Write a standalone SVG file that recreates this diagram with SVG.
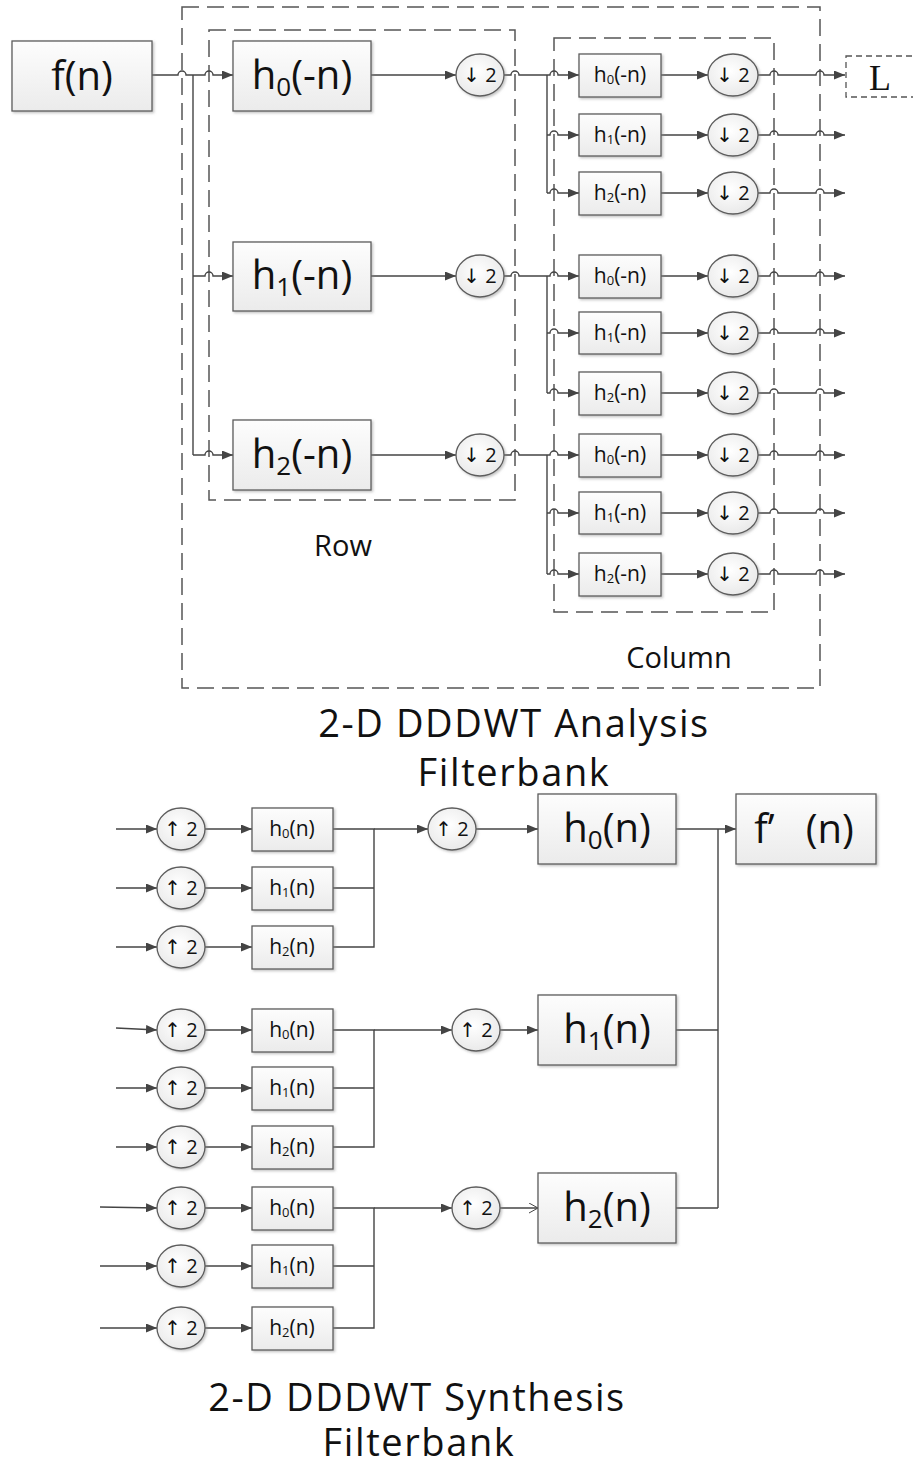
<svg xmlns="http://www.w3.org/2000/svg" width="913" height="1468" viewBox="0 0 913 1468">
<style>
.bx{fill:url(#gb);stroke:#5c5c5c;stroke-width:1.3;filter:url(#sh)}
.ci{fill:url(#gc);stroke:#5c5c5c;stroke-width:1.3;filter:url(#sh)}
.ln{fill:none;stroke:#444;stroke-width:1.4}
.ar{marker-end:url(#ah)}
.dsh{fill:none;stroke:#555;stroke-width:1.5;stroke-dasharray:17 8}
.t{font-family:"Open Sans","DejaVu Sans",sans-serif;fill:#111;text-anchor:middle}
.big{font-size:40px}
.sm{font-size:21px}
.cl{font-size:20px}
.lab{font-size:29px}
.ttl{font-size:38px;letter-spacing:1.6px}
</style>
<defs>
<linearGradient id="gb" x1="0" y1="0" x2="0" y2="1"><stop offset="0" stop-color="#fdfdfd"/><stop offset="1" stop-color="#ebebeb"/></linearGradient>
<radialGradient id="gc" cx="0.45" cy="0.4" r="0.7"><stop offset="0" stop-color="#ffffff"/><stop offset="1" stop-color="#e6e6e6"/></radialGradient>
<filter id="sh" x="-10%" y="-10%" width="130%" height="130%"><feDropShadow dx="1.5" dy="1.5" stdDeviation="0.8" flood-color="#888" flood-opacity="0.5"/></filter>
<marker id="ah" markerUnits="userSpaceOnUse" markerWidth="11" markerHeight="9" refX="11" refY="4.5" orient="auto"><path d="M0,0 L11,4.5 L0,9 Z" fill="#444"/></marker>
<marker id="ao" markerUnits="userSpaceOnUse" markerWidth="11" markerHeight="11" refX="10" refY="5.5" orient="auto"><path d="M1,0.5 L10,5.5 L1,10.5" fill="none" stroke="#444" stroke-width="1"/></marker>
</defs>

<g id="frames">
<rect class="dsh" x="182" y="7" width="638" height="681"/>
<rect class="dsh" x="209" y="30" width="306" height="470"/>
<rect class="dsh" x="554" y="38" width="220" height="574"/>
</g>

<g id="connectors">
<path class="ln ar" d="M152 75 H178 A4 4 0 0 1 186 75 H205 A4 4 0 0 1 213 75 H233"/>
<path class="ln" d="M193 75 V455"/>
<path class="ln ar" d="M193 276 H205 A4 4 0 0 1 213 276 H233"/>
<path class="ln ar" d="M193 455 H205 A4 4 0 0 1 213 455 H233"/>
<path class="ln ar" d="M371 75 H456"/>
<path class="ln ar" d="M371 276 H456"/>
<path class="ln ar" d="M371 455 H456"/>
<path class="ln" d="M504 75 H511 A4 4 0 0 1 519 75 H547"/>
<path class="ln" d="M504 276 H511 A4 4 0 0 1 519 276 H547"/>
<path class="ln" d="M504 455 H511 A4 4 0 0 1 519 455 H547"/>
<path class="ln" d="M547 75 V193"/>
<path class="ln" d="M547 276 V393"/>
<path class="ln" d="M547 455 V574"/>
<path class="ln ar" d="M547 75 H550 A4 4 0 0 1 558 75 H579"/>
<path class="ln ar" d="M547 135 H550 A4 4 0 0 1 558 135 H579"/>
<path class="ln ar" d="M547 193 H550 A4 4 0 0 1 558 193 H579"/>
<path class="ln ar" d="M547 276 H550 A4 4 0 0 1 558 276 H579"/>
<path class="ln ar" d="M547 333 H550 A4 4 0 0 1 558 333 H579"/>
<path class="ln ar" d="M547 393 H550 A4 4 0 0 1 558 393 H579"/>
<path class="ln ar" d="M547 455 H550 A4 4 0 0 1 558 455 H579"/>
<path class="ln ar" d="M547 513 H550 A4 4 0 0 1 558 513 H579"/>
<path class="ln ar" d="M547 574 H550 A4 4 0 0 1 558 574 H579"/>
<path class="ln ar" d="M661 75 H708"/>
<path class="ln ar" d="M661 135 H708"/>
<path class="ln ar" d="M661 193 H708"/>
<path class="ln ar" d="M661 276 H708"/>
<path class="ln ar" d="M661 333 H708"/>
<path class="ln ar" d="M661 393 H708"/>
<path class="ln ar" d="M661 455 H708"/>
<path class="ln ar" d="M661 513 H708"/>
<path class="ln ar" d="M661 574 H708"/>
<path class="ln ar" d="M758 75 H770 A4 4 0 0 1 778 75 H816 A4 4 0 0 1 824 75 H845"/>
<path class="ln ar" d="M758 135 H770 A4 4 0 0 1 778 135 H816 A4 4 0 0 1 824 135 H845"/>
<path class="ln ar" d="M758 193 H770 A4 4 0 0 1 778 193 H816 A4 4 0 0 1 824 193 H845"/>
<path class="ln ar" d="M758 276 H770 A4 4 0 0 1 778 276 H816 A4 4 0 0 1 824 276 H845"/>
<path class="ln ar" d="M758 333 H770 A4 4 0 0 1 778 333 H816 A4 4 0 0 1 824 333 H845"/>
<path class="ln ar" d="M758 393 H770 A4 4 0 0 1 778 393 H816 A4 4 0 0 1 824 393 H845"/>
<path class="ln ar" d="M758 455 H770 A4 4 0 0 1 778 455 H816 A4 4 0 0 1 824 455 H845"/>
<path class="ln ar" d="M758 513 H770 A4 4 0 0 1 778 513 H816 A4 4 0 0 1 824 513 H845"/>
<path class="ln ar" d="M758 574 H770 A4 4 0 0 1 778 574 H816 A4 4 0 0 1 824 574 H845"/>

<path class="ln ar" d="M116 829 H157"/>
<path class="ln ar" d="M116 888 H157"/>
<path class="ln ar" d="M116 947 H157"/>
<path class="ln ar" d="M116 1028 L157 1030"/>
<path class="ln ar" d="M116 1088 H157"/>
<path class="ln ar" d="M116 1147 H157"/>
<path class="ln ar" d="M100 1207 L157 1208"/>
<path class="ln ar" d="M100 1266 H157"/>
<path class="ln ar" d="M100 1328 H157"/>
<path class="ln ar" d="M205 829 H252"/>
<path class="ln ar" d="M205 888 H252"/>
<path class="ln ar" d="M205 947 H252"/>
<path class="ln ar" d="M205 1030 H252"/>
<path class="ln ar" d="M205 1088 H252"/>
<path class="ln ar" d="M205 1147 H252"/>
<path class="ln ar" d="M205 1208 H252"/>
<path class="ln ar" d="M205 1266 H252"/>
<path class="ln ar" d="M205 1328 H252"/>
<path class="ln" d="M333 829 H374 V947 H333 M333 888 H374"/>
<path class="ln" d="M333 1030 H374 V1147 H333 M333 1088 H374"/>
<path class="ln" d="M333 1208 H374 V1328 H333 M333 1266 H374"/>
<path class="ln ar" d="M374 829 H428"/>
<path class="ln ar" d="M374 1030 H452"/>
<path class="ln ar" d="M374 1208 H452"/>
<path class="ln ar" d="M476 829 H538"/>
<path class="ln ar" d="M500 1030 H538"/>
<path class="ln" style="marker-end:url(#ao)" d="M500 1208 H538"/>
<path class="ln ar" d="M676 829 H736"/>
<path class="ln" d="M676 1030 H718 M676 1208 H718 M718 829 V1208"/>
</g>

<g id="n-f"><rect class="bx" x="12" y="41" width="140" height="70"/><text class="t big" x="82" y="90">f(n)</text></g>
<g id="n-h0a"><rect class="bx" x="233" y="41" width="138" height="70"/><text class="t big" x="302" y="89">h<tspan font-size="26" dy="7">0</tspan><tspan dy="-7">(-n)</tspan></text></g>
<g id="n-h1a"><rect class="bx" x="233" y="242" width="138" height="69"/><text class="t big" x="302" y="289">h<tspan font-size="26" dy="7">1</tspan><tspan dy="-7">(-n)</tspan></text></g>
<g id="n-h2a"><rect class="bx" x="233" y="420" width="138" height="70"/><text class="t big" x="302" y="468">h<tspan font-size="26" dy="7">2</tspan><tspan dy="-7">(-n)</tspan></text></g>

<g id="n-d0"><ellipse class="ci" cx="480" cy="75" rx="24" ry="21"/><text class="t cl" x="480" y="82">↓ 2</text></g>
<g id="n-d1"><ellipse class="ci" cx="480" cy="276" rx="24" ry="21"/><text class="t cl" x="480" y="283">↓ 2</text></g>
<g id="n-d2"><ellipse class="ci" cx="480" cy="455" rx="24" ry="21"/><text class="t cl" x="480" y="462">↓ 2</text></g>

<g id="n-c00"><rect class="bx" x="579" y="54" width="82" height="43"/><text class="t sm" x="620" y="82">h<tspan font-size="13" dy="2">0</tspan><tspan dy="-2">(-n)</tspan></text></g>
<g id="n-c01"><rect class="bx" x="579" y="114" width="82" height="42"/><text class="t sm" x="620" y="142">h<tspan font-size="13" dy="2">1</tspan><tspan dy="-2">(-n)</tspan></text></g>
<g id="n-c02"><rect class="bx" x="579" y="172" width="82" height="43"/><text class="t sm" x="620" y="200">h<tspan font-size="13" dy="2">2</tspan><tspan dy="-2">(-n)</tspan></text></g>
<g id="n-c10"><rect class="bx" x="579" y="255" width="82" height="43"/><text class="t sm" x="620" y="283">h<tspan font-size="13" dy="2">0</tspan><tspan dy="-2">(-n)</tspan></text></g>
<g id="n-c11"><rect class="bx" x="579" y="312" width="82" height="42"/><text class="t sm" x="620" y="340">h<tspan font-size="13" dy="2">1</tspan><tspan dy="-2">(-n)</tspan></text></g>
<g id="n-c12"><rect class="bx" x="579" y="372" width="82" height="43"/><text class="t sm" x="620" y="400">h<tspan font-size="13" dy="2">2</tspan><tspan dy="-2">(-n)</tspan></text></g>
<g id="n-c20"><rect class="bx" x="579" y="434" width="82" height="43"/><text class="t sm" x="620" y="462">h<tspan font-size="13" dy="2">0</tspan><tspan dy="-2">(-n)</tspan></text></g>
<g id="n-c21"><rect class="bx" x="579" y="492" width="82" height="42"/><text class="t sm" x="620" y="520">h<tspan font-size="13" dy="2">1</tspan><tspan dy="-2">(-n)</tspan></text></g>
<g id="n-c22"><rect class="bx" x="579" y="553" width="82" height="43"/><text class="t sm" x="620" y="581">h<tspan font-size="13" dy="2">2</tspan><tspan dy="-2">(-n)</tspan></text></g>

<g id="n-cd00"><ellipse class="ci" cx="733" cy="75" rx="25" ry="21"/><text class="t cl" x="733" y="82">↓ 2</text></g>
<g id="n-cd01"><ellipse class="ci" cx="733" cy="135" rx="25" ry="21"/><text class="t cl" x="733" y="142">↓ 2</text></g>
<g id="n-cd02"><ellipse class="ci" cx="733" cy="193" rx="25" ry="21"/><text class="t cl" x="733" y="200">↓ 2</text></g>
<g id="n-cd10"><ellipse class="ci" cx="733" cy="276" rx="25" ry="21"/><text class="t cl" x="733" y="283">↓ 2</text></g>
<g id="n-cd11"><ellipse class="ci" cx="733" cy="333" rx="25" ry="21"/><text class="t cl" x="733" y="340">↓ 2</text></g>
<g id="n-cd12"><ellipse class="ci" cx="733" cy="393" rx="25" ry="21"/><text class="t cl" x="733" y="400">↓ 2</text></g>
<g id="n-cd20"><ellipse class="ci" cx="733" cy="455" rx="25" ry="21"/><text class="t cl" x="733" y="462">↓ 2</text></g>
<g id="n-cd21"><ellipse class="ci" cx="733" cy="513" rx="25" ry="21"/><text class="t cl" x="733" y="520">↓ 2</text></g>
<g id="n-cd22"><ellipse class="ci" cx="733" cy="574" rx="25" ry="21"/><text class="t cl" x="733" y="581">↓ 2</text></g>

<g id="n-L"><rect x="846" y="56" width="80" height="41" fill="none" stroke="#555" stroke-width="1.3" stroke-dasharray="6 4"/><text x="880" y="90" font-family="Liberation Serif,serif" font-size="36" fill="#111" text-anchor="middle">L</text></g>

<text class="t lab" x="343" y="556">Row</text>
<text class="t lab" x="679" y="668">Column</text>
<text class="t ttl" x="514" y="737">2-D DDDWT Analysis</text>
<text class="t ttl" x="514" y="786">Filterbank</text>

<g id="n-u00"><ellipse class="ci" cx="181" cy="829" rx="24" ry="21"/><text class="t cl" x="181" y="836">↑ 2</text></g>
<g id="n-u01"><ellipse class="ci" cx="181" cy="888" rx="24" ry="21"/><text class="t cl" x="181" y="895">↑ 2</text></g>
<g id="n-u02"><ellipse class="ci" cx="181" cy="947" rx="24" ry="21"/><text class="t cl" x="181" y="954">↑ 2</text></g>
<g id="n-u10"><ellipse class="ci" cx="181" cy="1030" rx="24" ry="21"/><text class="t cl" x="181" y="1037">↑ 2</text></g>
<g id="n-u11"><ellipse class="ci" cx="181" cy="1088" rx="24" ry="21"/><text class="t cl" x="181" y="1095">↑ 2</text></g>
<g id="n-u12"><ellipse class="ci" cx="181" cy="1147" rx="24" ry="21"/><text class="t cl" x="181" y="1154">↑ 2</text></g>
<g id="n-u20"><ellipse class="ci" cx="181" cy="1208" rx="24" ry="21"/><text class="t cl" x="181" y="1215">↑ 2</text></g>
<g id="n-u21"><ellipse class="ci" cx="181" cy="1266" rx="24" ry="21"/><text class="t cl" x="181" y="1273">↑ 2</text></g>
<g id="n-u22"><ellipse class="ci" cx="181" cy="1328" rx="24" ry="21"/><text class="t cl" x="181" y="1335">↑ 2</text></g>

<g id="n-s00"><rect class="bx" x="252" y="808" width="81" height="43"/><text class="t sm" x="292" y="836">h<tspan font-size="13" dy="2">0</tspan><tspan dy="-2">(n)</tspan></text></g>
<g id="n-s01"><rect class="bx" x="252" y="867" width="81" height="43"/><text class="t sm" x="292" y="895">h<tspan font-size="13" dy="2">1</tspan><tspan dy="-2">(n)</tspan></text></g>
<g id="n-s02"><rect class="bx" x="252" y="926" width="81" height="43"/><text class="t sm" x="292" y="954">h<tspan font-size="13" dy="2">2</tspan><tspan dy="-2">(n)</tspan></text></g>
<g id="n-s10"><rect class="bx" x="252" y="1009" width="81" height="43"/><text class="t sm" x="292" y="1037">h<tspan font-size="13" dy="2">0</tspan><tspan dy="-2">(n)</tspan></text></g>
<g id="n-s11"><rect class="bx" x="252" y="1067" width="81" height="43"/><text class="t sm" x="292" y="1095">h<tspan font-size="13" dy="2">1</tspan><tspan dy="-2">(n)</tspan></text></g>
<g id="n-s12"><rect class="bx" x="252" y="1126" width="81" height="43"/><text class="t sm" x="292" y="1154">h<tspan font-size="13" dy="2">2</tspan><tspan dy="-2">(n)</tspan></text></g>
<g id="n-s20"><rect class="bx" x="252" y="1187" width="81" height="43"/><text class="t sm" x="292" y="1215">h<tspan font-size="13" dy="2">0</tspan><tspan dy="-2">(n)</tspan></text></g>
<g id="n-s21"><rect class="bx" x="252" y="1245" width="81" height="43"/><text class="t sm" x="292" y="1273">h<tspan font-size="13" dy="2">1</tspan><tspan dy="-2">(n)</tspan></text></g>
<g id="n-s22"><rect class="bx" x="252" y="1307" width="81" height="43"/><text class="t sm" x="292" y="1335">h<tspan font-size="13" dy="2">2</tspan><tspan dy="-2">(n)</tspan></text></g>

<g id="n-um0"><ellipse class="ci" cx="452" cy="829" rx="24" ry="21"/><text class="t cl" x="452" y="836">↑ 2</text></g>
<g id="n-um1"><ellipse class="ci" cx="476" cy="1030" rx="24" ry="21"/><text class="t cl" x="476" y="1037">↑ 2</text></g>
<g id="n-um2"><ellipse class="ci" cx="476" cy="1208" rx="24" ry="21"/><text class="t cl" x="476" y="1215">↑ 2</text></g>

<g id="n-h0s"><rect class="bx" x="538" y="794" width="138" height="70"/><text class="t big" x="607" y="842">h<tspan font-size="26" dy="7">0</tspan><tspan dy="-7">(n)</tspan></text></g>
<g id="n-h1s"><rect class="bx" x="538" y="995" width="138" height="70"/><text class="t big" x="607" y="1043">h<tspan font-size="26" dy="7">1</tspan><tspan dy="-7">(n)</tspan></text></g>
<g id="n-h2s"><rect class="bx" x="538" y="1173" width="138" height="70"/><text class="t big" x="607" y="1221">h<tspan font-size="26" dy="7">2</tspan><tspan dy="-7">(n)</tspan></text></g>
<g id="n-fout"><rect class="bx" x="736" y="794" width="140" height="70"/><text class="t big" x="804" y="843" xml:space="preserve">f’   (n)</text></g>

<text class="t ttl" x="417" y="1411">2-D DDDWT Synthesis</text>
<text class="t ttl" x="419" y="1456">Filterbank</text>
</svg>
